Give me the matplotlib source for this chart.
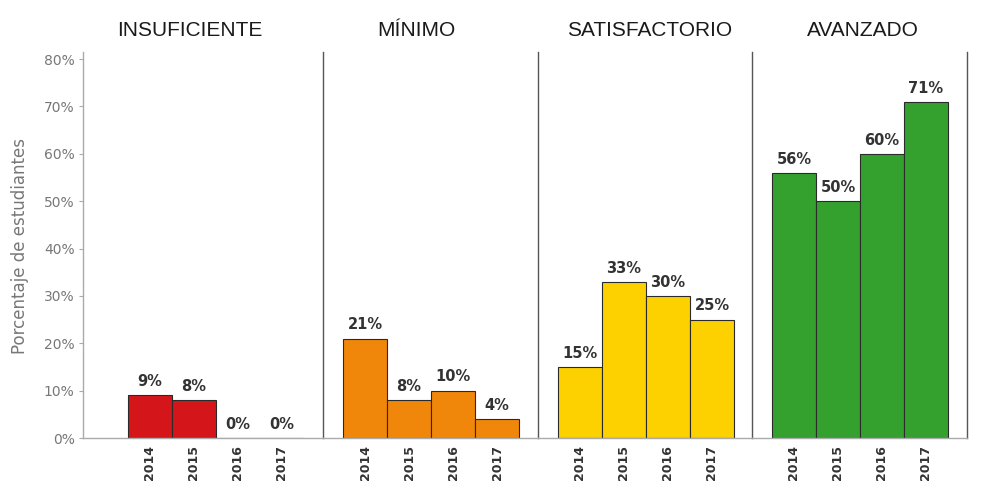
import matplotlib
matplotlib.use("Agg")
import matplotlib.pyplot as plt

levels = ["INSUFICIENTE", "MÍNIMO", "SATISFACTORIO", "AVANZADO"]
years = ["2014", "2015", "2016", "2017"]
insuficiente = [9, 8, 0, 0]
minimo = [21, 8, 10, 4]
satisfactorio = [15, 33, 30, 25]
avanzado = [56, 50, 60, 71]
series = [insuficiente, minimo, satisfactorio, avanzado]
colors = ["#D4161B", "#F0860A", "#FDD000", "#34A12E"]
yticks = [0, 10, 20, 30, 40, 50, 60, 70, 80]

W, H = 983, 487
fig = plt.figure(figsize=(W / 100, H / 100), dpi=100)
fig.patch.set_facecolor("white")

edges = [83, 323, 538, 752, 967]
top_px, bot_px = 52, 438
title_x = [190, 416, 650, 863]
px_per_unit = 44.0
first_center = [150, 365, 580, 794]

for i in range(4):
    x0, x1 = edges[i], edges[i + 1]
    ax = fig.add_axes([x0 / W, 1 - bot_px / H, (x1 - x0) / W, (bot_px - top_px) / H])
    left = -(first_center[i] - x0) / px_per_unit
    right = left + (x1 - x0) / px_per_unit
    xs = list(range(len(years)))
    ax.bar(xs, series[i], width=1.0, color=colors[i], edgecolor="#2a2a2a", linewidth=0.8, zorder=2)
    for x, v in zip(xs, series[i]):
        ax.text(x, v + 1.3, f"{v}%", ha="center", va="bottom", fontsize=10.5,
                fontweight="bold", color="#333333", family="DejaVu Sans")
    ax.set_xlim(left, right)
    ax.set_ylim(0, 81.5)
    ax.set_xticks(xs)
    ax.set_xticklabels(years, rotation=90, fontsize=9, color="#333333", fontweight="bold")
    ax.tick_params(axis="x", length=0, pad=5)
    for s in ["top", "left"]:
        ax.spines[s].set_visible(False)
    ax.spines["bottom"].set_color("#aaaaaa")
    ax.spines["bottom"].set_linewidth(1.0)
    ax.spines["right"].set_color("#555555")
    ax.spines["right"].set_linewidth(1.0)
    if i == 0:
        ax.spines["left"].set_visible(True)
        ax.spines["left"].set_color("#aaaaaa")
        ax.spines["left"].set_linewidth(1.0)
        ax.set_yticks(yticks)
        ax.set_yticklabels([f"{t}%" for t in yticks], fontsize=10, color="#777777")
        ax.tick_params(axis="y", length=3, color="#aaaaaa", pad=3)
    else:
        ax.set_yticks([])
    ax.patch.set_alpha(0)
    fig.text(title_x[i] / W, 1 - 31 / H, levels[i], ha="center", va="center",
             fontsize=15, color="#1a1a1a", family=["Liberation Sans", "DejaVu Sans"])

fig.text(20 / W, 1 - 246 / H, "Porcentaje de estudiantes", rotation=90, ha="center",
         va="center", fontsize=12, color="#777777")

fig.savefig("out.png", dpi=100, facecolor="white")
